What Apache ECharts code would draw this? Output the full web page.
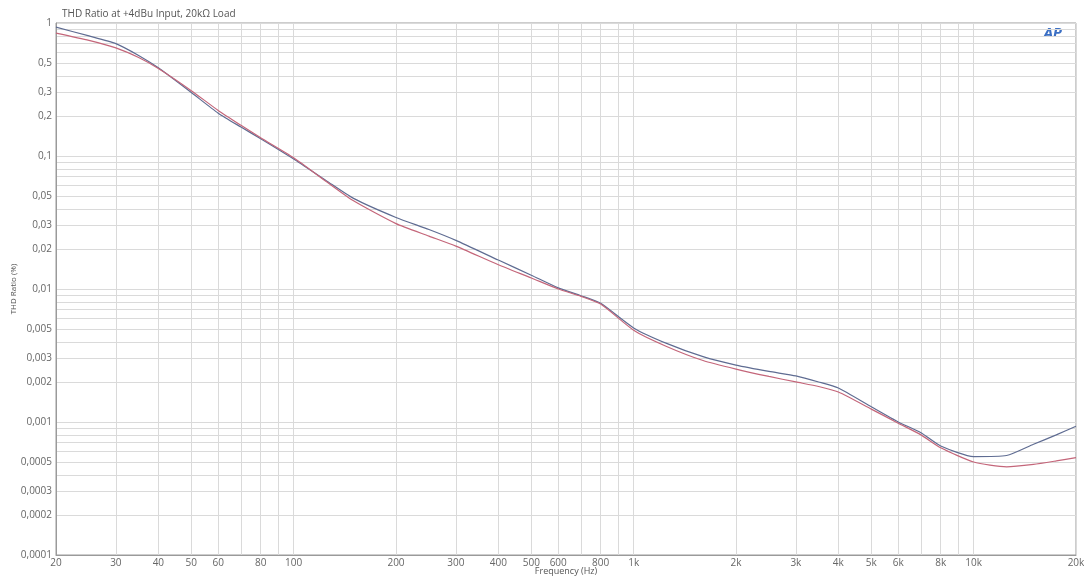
<!DOCTYPE html>
<html><head><meta charset="utf-8">
<script src="https://cdn.jsdelivr.net/npm/echarts@6/dist/echarts.min.js"></script>
<style>html,body{margin:0;padding:0;background:#fff}#c{width:1084px;height:578px}</style>
</head><body><div id="c"></div>
<script>
const freqs = [20,25,30,35,40,50,60,70,80,100,125,150,200,250,300,400,500,600,700,800,1000,1250,1600,2000,2500,3000,3500,4000,5000,6000,7000,8000,10000,12500,15000,17500,20000];
const blueVals = [0.93,0.80,0.70,0.57,0.46,0.30,0.21,0.165,0.135,0.095,0.065,0.048,0.0345,0.028,0.0232,0.0165,0.0127,0.0102,0.0089,0.0078,0.0051,0.0039,0.0031,0.00268,0.0024,0.00222,0.0020,0.0018,0.0013,0.0010,0.00083,0.00066,0.00055,0.00056,0.00068,0.0008,0.00093];
const redVals = [0.84,0.74,0.65,0.55,0.455,0.31,0.22,0.17,0.137,0.097,0.064,0.046,0.031,0.025,0.021,0.0152,0.0121,0.0100,0.0088,0.0077,0.0049,0.0037,0.0029,0.0025,0.0022,0.0020,0.00185,0.00168,0.00125,0.00098,0.0008,0.00064,0.0005,0.00046,0.00048,0.00051,0.00054];
const xLabelVals = [20,30,40,50,60,80,100,200,300,400,500,600,800,1000,2000,3000,4000,5000,6000,8000,10000,20000];
const xGridVals = [20,30,40,50,60,70,80,90,100,200,300,400,500,600,700,800,900,1000,2000,3000,4000,5000,6000,7000,8000,9000,10000,20000];
const yLabelVals = [0.0001,0.0002,0.0003,0.0005,0.001,0.002,0.003,0.005,0.01,0.02,0.03,0.05,0.1,0.2,0.3,0.5,1];
const yGridVals = [0.0001,0.0002,0.0003,0.0004,0.0005,0.0006,0.0007,0.0008,0.0009,0.001,0.002,0.003,0.004,0.005,0.006,0.007,0.008,0.009,0.01,0.02,0.03,0.04,0.05,0.06,0.07,0.08,0.09,0.1,0.2,0.3,0.4,0.5,0.6,0.7,0.8,0.9,1];

const fmtX = v => v >= 1000 ? (Math.round(v/1000)) + 'k' : String(Math.round(v));
const fmtY = v => { let s = Number(v.toPrecision(3)).toString(); if (v < 0.001) s = v.toFixed(4); return s.replace('.', ','); };

const chart = echarts.init(document.getElementById('c'), null, {renderer:'canvas'});
const FONT = 'Open Sans';
chart.setOption({
  animation:false,
  backgroundColor:'#fff',
  title:{text:'THD Ratio at +4dBu Input, 20kΩ Load', left:57, top:4,
    textStyle:{fontFamily:FONT, fontSize:10, fontWeight:'normal', color:'#555'}},
  graphic:[{type:'text', left:1044, top:28, style:{text:'AP', fontFamily:'DejaVu Sans', fontSize:12, fontWeight:'bold', fontStyle:'italic', fill:'#3b6fc4'}}],
  grid:{left:56, right:8, top:23, bottom:23, show:true, borderColor:'#9a9a9a', borderWidth:1, outerBoundsMode:'none', containLabel:false},
  xAxis:{type:'log', logBase:10, min:20, max:20000,
    name:'Frequency (Hz)', nameLocation:'middle', nameGap:16, nameMoveOverlap:false,
    nameTextStyle:{fontFamily:FONT, fontSize:9, color:'#555', verticalAlign:'middle'},
    axisLine:{show:true, lineStyle:{color:'#9a9a9a'}},
    axisTick:{show:false, customValues:xGridVals},
    axisLabel:{customValues:xLabelVals, formatter:fmtX, fontFamily:FONT, fontSize:10, color:'#666', margin:3},
    splitLine:{show:true, lineStyle:{color:'#dadada', width:1}},
    minorSplitLine:{show:false}},
  yAxis:{type:'log', logBase:10, min:0.0001, max:1,
    name:'THD Ratio (%)', nameLocation:'middle', nameGap:42, nameRotate:90, nameMoveOverlap:false,
    nameTextStyle:{fontFamily:FONT, fontSize:8, color:'#555', verticalAlign:'middle'},
    axisLine:{show:true, lineStyle:{color:'#9a9a9a'}},
    axisTick:{show:false, customValues:yGridVals},
    axisLabel:{customValues:yLabelVals, formatter:fmtY, fontFamily:FONT, fontSize:10, color:'#666', margin:4},
    splitLine:{show:true, lineStyle:{color:'#dadada', width:1}}},
  series:[
    {type:'line', name:'Ch1', data:freqs.map((f,i)=>[f,blueVals[i]]), showSymbol:false, smooth:0.2,
      lineStyle:{color:'#5f6c92', width:1.2}},
    {type:'line', name:'Ch2', data:freqs.map((f,i)=>[f,redVals[i]]), showSymbol:false, smooth:0.2,
      lineStyle:{color:'#c4667a', width:1.2}}
  ]
});
</script></body></html>
